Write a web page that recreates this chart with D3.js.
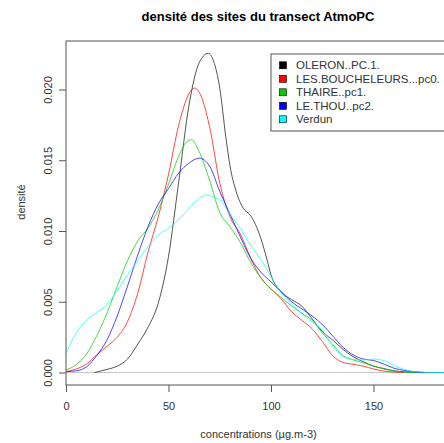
<!DOCTYPE html>
<html>
<head>
<meta charset="utf-8">
<script src="https://cdn.jsdelivr.net/npm/d3@7"></script>
<style>
  body { margin: 0; background: #fff; }
  svg { display: block; font-family: "Liberation Sans", Arial, sans-serif; }
</style>
</head>
<body>
<svg id="chart" width="444" height="443"></svg>
<script>
// Kernel density estimates of concentrations (µg.m-3) for each site of the AtmoPC transect
const sites = ["OLERON..PC.1.", "LES.BOUCHELEURS...pc0.", "THAIRE..pc1.", "LE.THOU..pc2.", "Verdun"];
const siteColors = ["#000000", "#FF0000", "#00CD00", "#0000FF", "#00FFFF"];

const oleronX = [14, 20, 25, 30, 35, 40, 45, 50, 55, 60, 65, 69.4, 72, 75, 78, 80, 83, 86.5, 90, 95, 98, 100, 105, 110, 115, 120, 125, 130, 135, 140, 145, 150, 155, 160, 165, 170, 175, 187];
const oleronY = [0, 0.22, 0.45, 0.95, 2.0, 3.2, 4.9, 8.2, 13.5, 18.9, 21.9, 22.56, 22.0, 20.1, 16.6, 14.6, 12.8, 11.6, 11.1, 9.5, 8.0, 6.9, 5.7, 5.15, 4.7, 3.8, 2.9, 2.3, 1.65, 1.12, 0.76, 0.45, 0.28, 0.12, 0.05, 0.02, 0, 0];

const boucheleursX = [0, 5, 10, 15, 20, 25, 30, 35, 40, 45, 50, 55, 60, 62.6, 65, 70, 75, 80, 85, 90, 95, 100, 105, 110, 115, 120, 125, 130, 135, 140, 145, 150, 155, 160, 165];
const boucheleursY = [0.06, 0.25, 0.6, 1.25, 1.85, 2.5, 3.6, 5.6, 8.5, 11.0, 14.0, 17.5, 19.7, 20.1, 19.8, 17.4, 13.4, 11.0, 9.8, 8.1, 6.7, 5.9, 5.2, 4.3, 3.7, 3.1, 2.2, 1.2, 0.72, 0.58, 0.45, 0.25, 0.1, 0.03, 0];

const thaireX = [0, 5, 10, 15, 20, 25, 30, 35, 40, 45, 50, 55, 58.9, 61.3, 65, 70, 75, 80, 85, 90, 95, 100, 105, 110, 115, 120, 125, 130, 135, 140, 145, 150, 155, 160, 165, 170];
const thaireY = [0.18, 0.55, 1.3, 2.6, 4.2, 6.1, 7.9, 9.3, 10.2, 11.5, 13.3, 15.3, 16.3, 16.45, 15.6, 13.6, 11.3, 10.3, 9.2, 7.8, 6.7, 5.9, 5.3, 4.7, 4.2, 3.7, 2.8, 2.0, 1.2, 0.9, 0.68, 0.45, 0.25, 0.1, 0.03, 0];

const thouX = [0, 5, 10, 15, 20, 25, 30, 35, 40, 45, 50, 55, 60, 65, 70, 75, 80, 85, 90, 95, 100, 105, 110, 115, 120, 125, 130, 135, 140, 145, 150, 155, 160, 165, 170, 175];
const thouY = [0.06, 0.12, 0.4, 1.2, 2.3, 4.0, 6.1, 8.3, 10.3, 11.9, 13.0, 14.1, 14.8, 15.15, 14.6, 12.8, 11.2, 9.6, 8.1, 7.1, 6.4, 5.7, 5.0, 4.5, 4.0, 3.4, 2.6, 1.8, 1.25, 0.95, 0.85, 0.6, 0.3, 0.15, 0.05, 0];

const verdunX = [0, 5, 10, 15, 20, 25, 30, 35, 40, 45, 50, 55, 60, 65, 68.6, 72, 75, 80, 85, 90, 95, 100, 105, 110, 115, 120, 125, 130, 135, 140, 145, 150, 155, 160, 165, 170, 175, 187];
const verdunY = [1.36, 2.8, 3.7, 4.25, 4.8, 5.8, 6.9, 7.9, 8.9, 9.7, 10.2, 10.8, 11.6, 12.3, 12.55, 12.4, 12.2, 11.2, 10.2, 9.0, 8.0, 6.8, 5.6, 4.85, 4.15, 3.6, 3.0, 1.9, 1.15, 0.9, 0.88, 0.95, 0.85, 0.5, 0.22, 0.05, 0.01, 0];

// densities above are in units of 1e-3
const densityScale = 1e-3;

const xTicks = [0, 50, 100, 150];
const yTicks = [0, 0.005, 0.010, 0.015, 0.020];
const yTickLabels = ["0.000", "0.005", "0.010", "0.015", "0.020"];

const seriesX = [oleronX, boucheleursX, thaireX, thouX, verdunX];
const seriesY = [oleronY, boucheleursY, thaireY, thouY, verdunY];

const svg = d3.select("#chart");
const box = { left: 66, top: 41, right: 451, bottom: 385 };

const x = d3.scaleLinear().domain([0, 187]).range([66, 449.35]);
const y = d3.scaleLinear().domain([0, 0.02]).range([372.5, 89.5]);

// title
svg.append("text")
  .attr("x", 258).attr("y", 20.5)
  .attr("text-anchor", "middle")
  .attr("font-size", 13).attr("font-weight", "bold")
  .attr("fill", "#000")
  .text("densité des sites du transect AtmoPC");

svg.append("defs").append("clipPath").attr("id", "plotclip")
  .append("rect")
  .attr("x", box.left).attr("y", box.top)
  .attr("width", box.right - box.left).attr("height", box.bottom - box.top);

// zero reference line
svg.append("line")
  .attr("x1", box.left).attr("x2", box.right)
  .attr("y1", y(0)).attr("y2", y(0))
  .attr("stroke", "#c8c8c8").attr("stroke-width", 1);

// density curves
const line = d3.line()
  .x(d => x(d[0]))
  .y(d => y(d[1] * densityScale))
  .curve(d3.curveMonotoneX);

const curves = svg.append("g").attr("clip-path", "url(#plotclip)");
sites.forEach((s, i) => {
  const pts = seriesX[i].map((v, j) => [v, seriesY[i][j]]);
  curves.append("path")
    .datum(pts)
    .attr("d", line)
    .attr("fill", "none")
    .attr("stroke", siteColors[i])
    .attr("stroke-width", 0.9)
    .attr("stroke-opacity", i === 0 ? 0.75 : 0.8);
});

// plot frame
svg.append("rect")
  .attr("x", box.left).attr("y", box.top)
  .attr("width", box.right - box.left).attr("height", box.bottom - box.top)
  .attr("fill", "none").attr("stroke", "#555").attr("stroke-width", 1);

// x axis
const xAxis = svg.append("g")
  .attr("transform", `translate(0,${box.bottom})`)
  .call(d3.axisBottom(x).tickValues(xTicks).tickFormat(d3.format("d")).tickSize(7).tickSizeOuter(0).tickPadding(10));
xAxis.select(".domain").remove();
xAxis.selectAll("line").attr("stroke", "#555");
xAxis.selectAll("text").attr("font-size", 11).attr("fill", "#333")
  .attr("font-family", "Liberation Sans, Arial, sans-serif");

// y axis, labels rotated along the axis
const yAxis = svg.append("g")
  .attr("transform", `translate(${box.left},0)`)
  .call(d3.axisLeft(y).tickValues(yTicks).tickFormat((d, i) => yTickLabels[i]).tickSize(7).tickSizeOuter(0));
yAxis.select(".domain").remove();
yAxis.selectAll("line").attr("stroke", "#555");
yAxis.selectAll("text")
  .attr("font-size", 11).attr("fill", "#333")
  .attr("font-family", "Liberation Sans, Arial, sans-serif")
  .attr("text-anchor", "middle")
  .attr("x", 0).attr("y", -18).attr("dy", "0.35em")
  .attr("transform", "rotate(-90)");

// axis titles
svg.append("text")
  .attr("x", 258.5).attr("y", 438)
  .attr("text-anchor", "middle")
  .attr("font-size", 11).attr("fill", "#333")
  .text("concentrations (µg.m-3)");

svg.append("text")
  .attr("transform", "translate(21,202) rotate(-90)")
  .attr("text-anchor", "middle").attr("dy", "0.35em")
  .attr("font-size", 11).attr("fill", "#333")
  .text("densité");

// legend
const legend = svg.append("g");
legend.append("rect")
  .attr("x", 271).attr("y", 54)
  .attr("width", 190).attr("height", 77)
  .attr("fill", "#fff").attr("stroke", "#555").attr("stroke-width", 1);
const rowY = d3.scalePoint().domain(sites).range([65.3, 119.3]);
sites.forEach((s, i) => {
  legend.append("rect")
    .attr("x", 279.5).attr("y", rowY(s) - 3.5)
    .attr("width", 7).attr("height", 7)
    .attr("fill", siteColors[i]).attr("stroke", "#000").attr("stroke-width", 0.6);
  legend.append("text")
    .attr("x", 296).attr("y", rowY(s)).attr("dy", "0.35em")
    .attr("font-size", 11.5).attr("fill", "#333")
    .text(s);
});
</script>
</body>
</html>
